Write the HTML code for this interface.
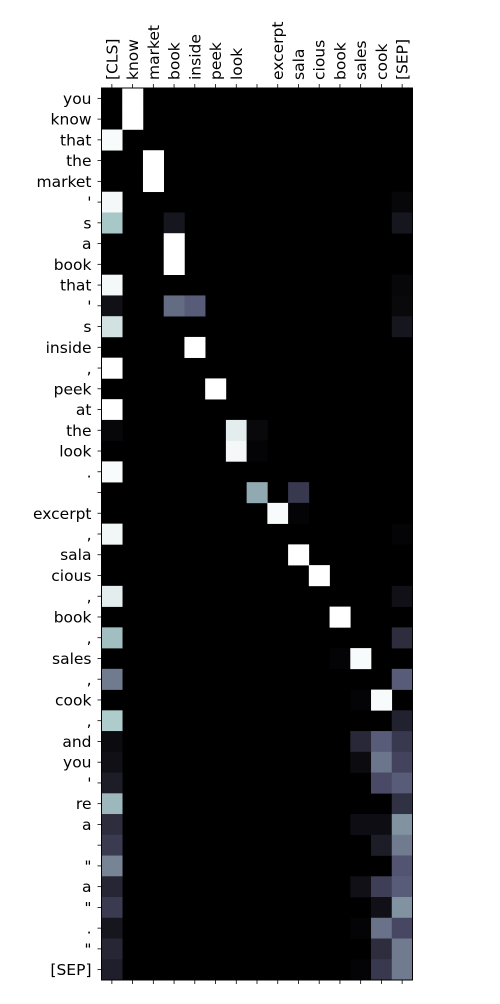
<!DOCTYPE html>
<html><head><meta charset="utf-8"><style>
body{margin:0;background:#fff;width:500px;height:1000px;overflow:hidden;font-family:"DejaVu Sans","Liberation Sans",sans-serif}
</style></head><body>
<svg id="chart" width="500" height="1000" xmlns="http://www.w3.org/2000/svg"></svg>
<script>
const colLabels=["[CLS]","know","market","book","inside","peek","look","","excerpt","sala","cious","book","sales","cook","[SEP]"];
const rowLabels=["you","know","that","the","market","'","s","a","book","that","'","s","inside",",","peek","at","the","look",".","","excerpt",",","sala","cious",",","book",",","sales",",","cook",",","and","you","'","re","a","","\"","a","\"",".","\"","[SEP]"];
const cellRows=[0,1,2,3,4,5,5,6,6,6,7,8,9,9,10,10,10,10,11,11,12,13,14,15,16,16,16,17,17,18,19,19,20,20,21,21,22,23,24,24,25,26,26,27,27,28,28,29,29,30,30,31,31,31,31,32,32,32,32,33,33,33,34,34,35,35,35,35,36,36,36,37,37,38,38,38,38,39,39,39,40,40,40,40,41,41,41,42,42,42,42];
const cellCols=[1,1,0,2,2,0,14,0,3,14,3,3,0,14,0,3,4,14,0,14,4,0,5,0,0,6,7,6,7,0,7,9,8,9,0,14,9,10,0,14,11,0,14,11,12,0,14,12,13,0,14,0,12,13,14,0,12,13,14,0,13,14,0,14,0,12,13,14,0,13,14,0,14,0,12,13,14,0,13,14,0,12,13,14,0,13,14,0,12,13,14];
const cellValues=[1,1,0.98,1,1,0.97,0.03,0.75,0.1,0.1,1,1,0.97,0.03,0.07,0.45,0.4,0.04,0.87,0.1,1,1,1,1,0.03,0.92,0.04,0.97,0.02,0.98,0.65,0.25,0.98,0.02,0.96,0.02,1,1,0.92,0.07,1,0.72,0.2,0.02,0.98,0.5,0.4,0.02,0.98,0.77,0.15,0.05,0.18,0.4,0.25,0.07,0.05,0.48,0.3,0.13,0.33,0.4,0.7,0.22,0.2,0.06,0.06,0.58,0.26,0.13,0.5,0.53,0.37,0.17,0.07,0.28,0.4,0.26,0.07,0.58,0.1,0.02,0.47,0.32,0.17,0.2,0.5,0.14,0.02,0.25,0.5];

const NS="http://www.w3.org/2000/svg";
const svg=document.getElementById('chart');
const X0=101.5,X1=412.5,Y0=88,Y1=980;
const cw=(X1-X0)/colLabels.length, ch=(Y1-Y0)/rowLabels.length;
const xPos=c=>X0+c*cw, yPos=r=>Y0+r*ch;
function interp(pts,v){for(let i=1;i<pts.length;i++){if(v<=pts[i][0]){const a=pts[i-1],b=pts[i];return a[1]+(b[1]-a[1])*(v-a[0])/(b[0]-a[0]);}}return 1;}
function bone(v){
 const r=interp([[0,0],[0.746032,0.652778],[1,1]],v);
 const g=interp([[0,0],[0.365079,0.319444],[0.746032,0.777778],[1,1]],v);
 const b=interp([[0,0],[0.365079,0.444444],[1,1]],v);
 return `rgb(${Math.round(r*255)},${Math.round(g*255)},${Math.round(b*255)})`;
}
function mk(tag,attrs){const e=document.createElementNS(NS,tag);for(const k in attrs)e.setAttribute(k,attrs[k]);svg.appendChild(e);return e;}
const bg=mk('rect',{x:X0,y:Y0,width:X1-X0,height:Y1-Y0,fill:'#000'});


for(let i=0;i<cellValues.length;i++){
 const rc=mk('rect',{x:xPos(cellCols[i]),y:yPos(cellRows[i]),width:cw+0.3,height:ch+0.3,fill:bone(cellValues[i])});
 
 
}
const frame=mk('rect',{x:X0,y:Y0,width:X1-X0,height:Y1-Y0,fill:'none',stroke:'#000','stroke-width':1});


colLabels.forEach((lab,c)=>{
 const cx=xPos(c)+cw/2;
 mk('line',{x1:cx,x2:cx,y1:Y0,y2:Y0-4,stroke:'#000','stroke-width':0.8});
 mk('line',{x1:cx,x2:cx,y1:Y1,y2:Y1+4,stroke:'#000','stroke-width':0.8});
 const t=mk('text',{x:0,y:0,transform:`translate(${cx+5.5},${Y0-8}) rotate(-90)`,'font-size':'15.5',fill:'#000'});
 t.textContent=lab;
 
 
});
rowLabels.forEach((lab,r)=>{
 const cy=yPos(r)+ch/2;
 mk('line',{x1:X0,x2:X0-4,y1:cy,y2:cy,stroke:'#000','stroke-width':0.8});
 const t=mk('text',{x:X0-10,y:cy+5.5,'text-anchor':'end','font-size':'15.5',fill:'#000'});
 t.textContent=lab;
 
 
});
</script>
</body></html>
